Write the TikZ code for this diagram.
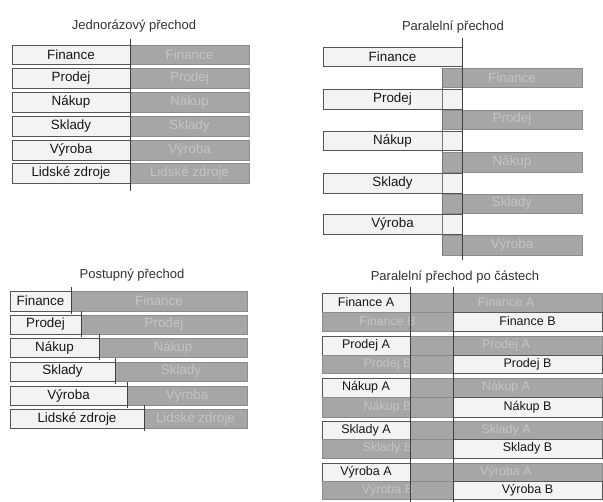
\documentclass[tikz,border=0pt]{standalone}
\usepackage{fontspec}
\setmainfont{Liberation Sans}
\usetikzlibrary{calc}
\definecolor{lightfill}{HTML}{F3F3F3}
\definecolor{darkfill}{HTML}{A6A6A6}
\definecolor{edge}{HTML}{555555}
\definecolor{ghosttext}{HTML}{C4C4C4}
\definecolor{inktext}{HTML}{161616}
\tikzset{
  cell/.style={rectangle, inner sep=0pt, outer sep=0pt, line width=0.8pt, font=\fontsize{13.4}{15}\selectfont},
  small/.style={font=\fontsize{12.5}{14}\selectfont},
  oldsys/.style={cell, draw=edge, fill=lightfill, text=inktext},
  newsys/.style={cell, draw=black!45, fill=darkfill, text=ghosttext},
  heading/.style={font=\fontsize{13}{15}\selectfont, text=black!80, inner sep=0pt},
  cutline/.style={draw=black!75, line width=0.7pt},
  seam/.style={draw=black!55, line width=0.5pt}
}
% \cellbox{name}{style}{x1}{y1}{x2}{y2}{text}: box spanning the given corners
\newcommand{\cellbox}[7]{%
  \node[#2, minimum width={(#5-#3)*1pt}, minimum height={(#6-#4)*1pt}]
    (#1) at ({(#3+#5)/2},{(#4+#6)/2}) {#7};}
\begin{document}
\begin{tikzpicture}[x=1pt,y=-1pt]
\useasboundingbox[fill=white] (0,0) rectangle (603,502);

% ---------- Jednorázový přechod ----------
\node[heading] (t1) at (134,26) {Jednorázový přechod};
\foreach \n/\lab/\ya/\yb in {a/Finance/45/64, b/Prodej/68/88, c/Nákup/92/112,
    d/Sklady/116/136, e/Výroba/140/160, f/Lidské zdroje/163/183}{
  \cellbox{j\n o}{oldsys}{12}{\ya}{130}{\yb}{\lab}
  \cellbox{j\n n}{newsys}{130}{\ya}{249}{\yb}{\lab}
}
\coordinate (j1) at (130,39); \coordinate (j2) at (130,191);
\draw[cutline] (j1) -- (j2);

% ---------- Paralelní přechod ----------
\node[heading] (t2) at (453,27) {Paralelní přechod};
\foreach \n/\lab/\ya/\yb/\yc/\yd in {a/Finance/47/66/68/87, b/Prodej/89/109/110/129,
    c/Nákup/131/150/152/172, d/Sklady/173/193/194/213, e/Výroba/214/234/235/255}{
  \cellbox{p\n o}{oldsys}{323}{\ya}{462}{\yb}{\lab}
  \cellbox{p\n n}{newsys}{442}{\yc}{582}{\yd}{\lab}
}
\coordinate (ps1) at (442,68); \coordinate (ps2) at (442,255);
\draw[seam] (ps1) -- (ps2);
\coordinate (p1) at (462,38); \coordinate (p2) at (462,260);
\draw[cutline] (p1) -- (p2);

% ---------- Postupný přechod ----------
\node[heading] (t3) at (132,275) {Postupný přechod};
\foreach \n/\lab/\xs/\ya/\yb in {a/Finance/71/291/311, b/Prodej/81/315/334,
    c/Nákup/99/338/357, d/Sklady/115/362/381, e/Výroba/127/386/405,
    f/Lidské zdroje/144/409/428}{
  \cellbox{s\n o}{oldsys}{10}{\ya}{\xs}{\yb}{\lab}
  \cellbox{s\n n}{newsys}{\xs}{\ya}{247}{\yb}{\lab}
  \draw[cutline] ($(s\n o.north east)+(0,-4)$) -- ($(s\n o.south east)+(0,3)$);
}

% ---------- Paralelní přechod po částech ----------
\node[heading] (t4) at (455,277) {Paralelní přechod po částech};
\foreach \n/\lab/\ya/\yb/\yc in {a/Finance/293/312/331, b/Prodej/336/355/373,
    c/Nákup/378/397/417, d/Sklady/421/439/458, e/Výroba/463/481/499}{
  \cellbox{c\n ao}{oldsys,small}{322}{\ya}{410}{\yb}{\lab\ A}
  \cellbox{c\n an}{newsys,small}{410}{\ya}{602}{\yb}{\lab\ A}
  \cellbox{c\n bn}{newsys,small}{322}{\yb}{453}{\yc}{\lab\ B}
  \cellbox{c\n bo}{oldsys,small}{453}{\yb}{602}{\yc}{\lab\ B}
}
\coordinate (c1) at (410,287); \coordinate (c2) at (410,502);
\coordinate (c3) at (453,287); \coordinate (c4) at (453,502);
\draw[cutline] (c1) -- (c2);
\draw[cutline] (c3) -- (c4);
\end{tikzpicture}
\end{document}
